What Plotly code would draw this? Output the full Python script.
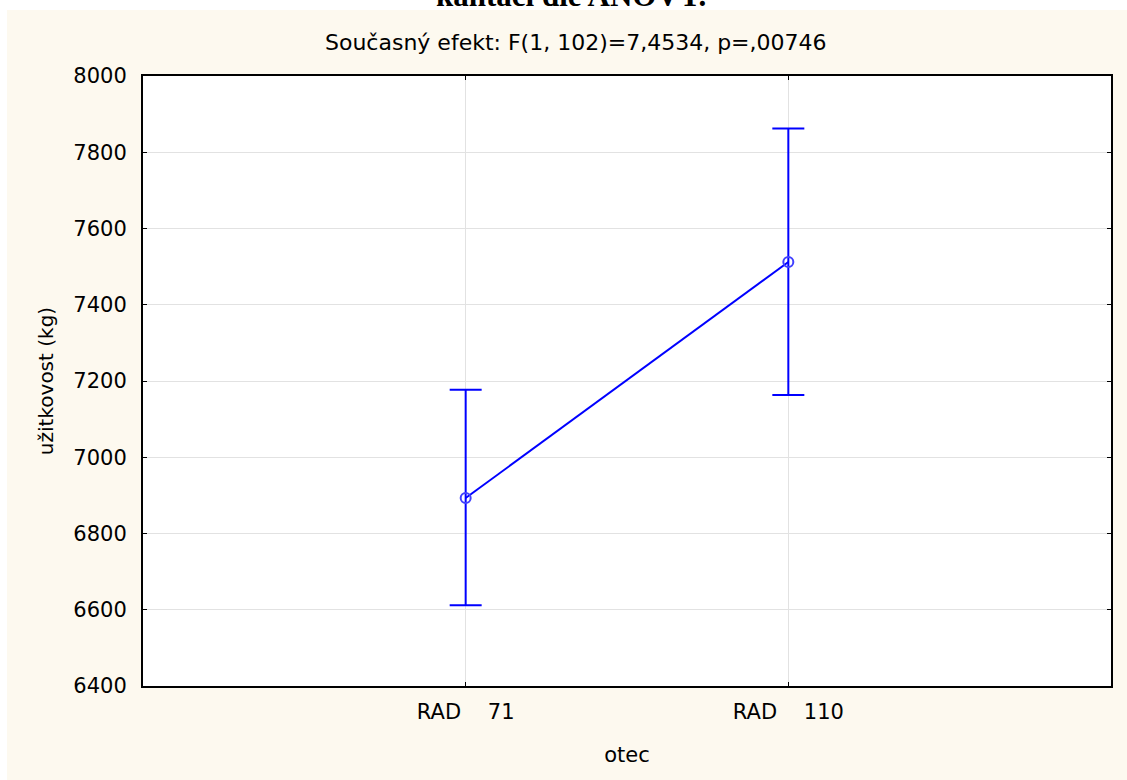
import plotly.graph_objects as go

categories = ["RAD\u00a0\u00a0\u00a0\u00a071", "RAD\u00a0\u00a0\u00a0\u00a0110"]
means = [6893, 7512]
upper = [7177, 7862]
lower = [6612, 7163]
y_ticks = [6400, 6600, 6800, 7000, 7200, 7400, 7600, 7800, 8000]

x_pos = list(range(len(categories)))
err_plus = [u - m for u, m in zip(upper, means)]
err_minus = [m - l for m, l in zip(means, lower)]

FONT = "DejaVu Sans, Verdana, sans-serif"
CREAM = "#fdf9ef"
PH = 610.0
PW = 968.0

fig = go.Figure()
fig.add_trace(go.Scatter(
    x=x_pos, y=means, mode="lines+markers",
    line=dict(color="#0000ff", width=2),
    marker=dict(symbol="circle-open", size=10, color="#4040ff", line=dict(width=2)),
    error_y=dict(type="data", symmetric=False, array=err_plus, arrayminus=err_minus,
                 color="#0000ff", thickness=2, width=16),
    showlegend=False, hoverinfo="skip",
))

fig.update_layout(
    width=1127, height=780,
    margin=dict(l=143, r=16, t=76, b=94),
    paper_bgcolor=CREAM, plot_bgcolor="white",
    font=dict(family=FONT, size=21, color="black"),
    xaxis=dict(
        range=[-1, 2], tickmode="array", tickvals=x_pos, ticktext=categories,
        showgrid=True, gridcolor="#e2e2e2", gridwidth=1,
        showline=True, linecolor="black", linewidth=2, mirror="ticks",
        ticks="inside", ticklen=4, tickcolor="black",
        ticklabelstandoff=6, zeroline=False,
        title=dict(text="otec", font=dict(size=21), standoff=24),
    ),
    yaxis=dict(
        range=[6400, 8000], tickmode="array", tickvals=y_ticks,
        ticktext=[str(v) for v in y_ticks],
        showgrid=True, gridcolor="#e2e2e2", gridwidth=1,
        showline=True, linecolor="black", linewidth=2, mirror="ticks",
        ticks="inside", ticklen=4, tickcolor="black",
        ticklabelstandoff=10, zeroline=False,
        title=dict(text="užitkovost (kg)", font=dict(size=20), standoff=14),
    ),
    shapes=[
        dict(type="rect", xref="paper", yref="paper", layer="above",
             x0=-143/PW, x1=1 + 16/PW, y0=1 + (76-10)/PH, y1=1 + 80/PH,
             fillcolor="white", line=dict(width=0)),
        dict(type="rect", xref="paper", yref="paper", layer="above",
             x0=-143/PW, x1=-136/PW, y0=-100/PH, y1=1 + 80/PH,
             fillcolor="white", line=dict(width=0)),
    ],
    annotations=[
        dict(text="Současný efekt: F(1, 102)=7,4534, p=,00746", xref="paper", yref="paper",
             x=(576-143)/PW, y=1 + (76-42)/PH, xanchor="center", yanchor="middle",
             showarrow=False, font=dict(family=FONT, size=22, color="black")),
        dict(text="<b>kantaci dle ANOVY.</b>", xref="paper", yref="paper",
             x=(571-143)/PW, y=1 + (76-15)/PH, xanchor="center", yanchor="bottom",
             showarrow=False, font=dict(family="Liberation Serif, Times New Roman, serif", size=31, color="black")),
    ],
)

fig.write_html("out.html")
